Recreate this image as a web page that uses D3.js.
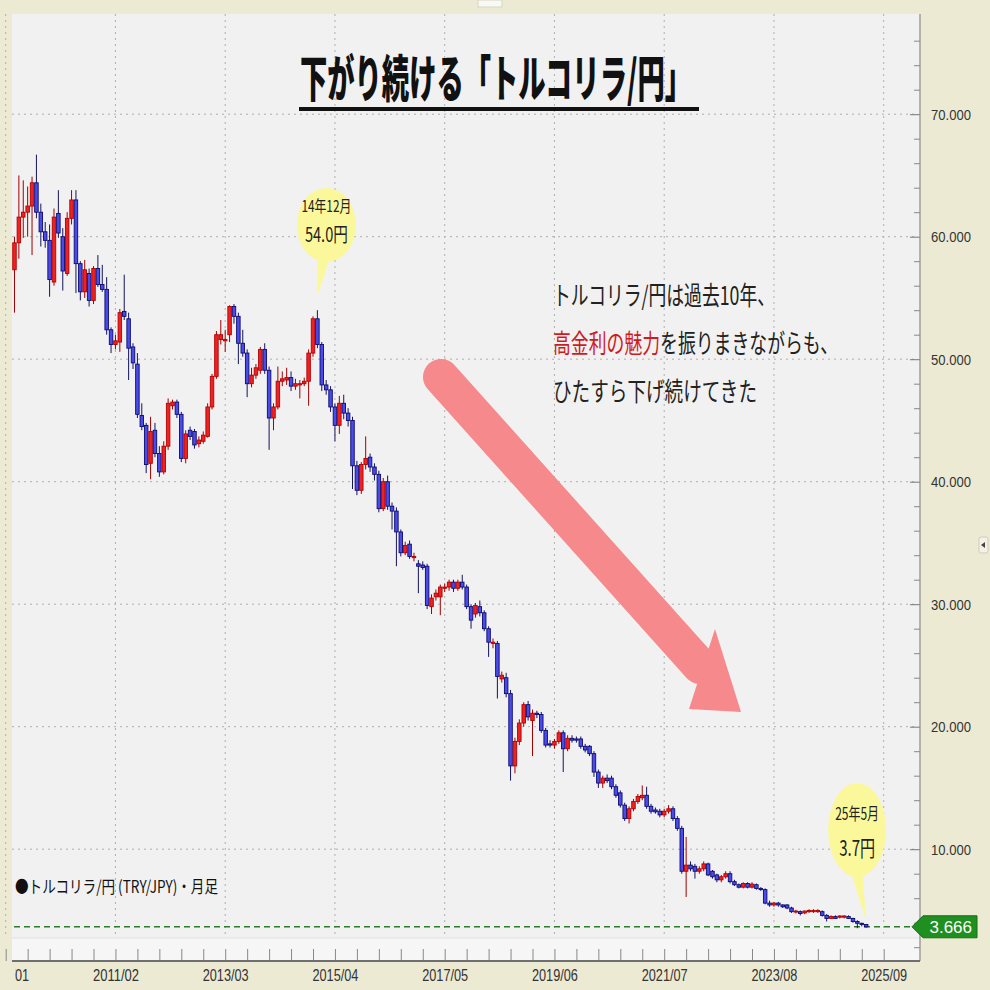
<!DOCTYPE html>
<html><head><meta charset="utf-8">
<script src="https://cdn.jsdelivr.net/npm/d3@7"></script>
<style>html,body{margin:0;padding:0;background:#ECEAD3;} svg{display:block}</style>
</head><body><svg id="chart" width="990" height="990"></svg>
<script>
// ---------- DATA ----------
const startMonth = "2009/03";
const axisFirstMonth = "2009/01";
const axisLastMonth = "2025/09";

const openVals = [
 57.3,59.5,61.6,62.0,62.5,64.4,62.0,60.4,59.7,56.3,
 61.9,60.0,57.0,61.5,63.0,57.8,55.5,57.0,54.8,57.4,56.1,55.7,
 52.4,51.2,51.4,53.9,53.3,51.0,49.6,45.4,44.6,41.5,44.2,42.3,
 40.8,42.9,46.2,46.5,45.5,41.9,44.2,44.1,43.1,43.3,43.7,46.1,
 48.6,51.6,51.5,52.0,54.3,53.5,51.3,50.5,48.0,48.7,49.1,50.8,
 49.1,45.2,46.1,48.2,48.3,48.5,47.8,47.9,48.0,48.2,50.5,53.3,
 51.2,47.9,47.5,46.1,44.6,46.4,45.6,45.0,41.3,39.3,41.4,42.0,
 41.2,40.6,37.8,40.0,38.0,37.6,35.9,34.2,34.9,33.8,33.3,33.2,
 33.1,29.8,30.6,30.6,31.3,31.4,31.8,31.3,31.8,31.4,29.8,29.2,
 29.8,29.3,28.0,26.8,26.8,23.9,24.0,22.7,16.8,18.8,20.3,21.8,
 20.5,21.1,21.0,19.7,18.6,18.5,18.8,19.5,18.2,19.05,19.0,19.0,
 18.4,18.4,17.8,16.3,15.4,15.8,15.8,15.1,14.6,13.6,12.5,13.3,
 13.9,14.2,14.4,13.5,13.2,13.1,12.8,13.1,13.3,12.5,11.7,8.2,
 8.7,8.6,8.2,8.4,8.8,8.2,7.9,7.5,7.75,8.0,7.35,7.1,
 6.9,7.2,6.9,7.1,6.8,6.7,5.6,5.45,5.6,5.45,5.45,5.2,
 4.9,4.9,4.8,4.9,4.9,4.9,4.9,4.6,4.35,4.5,4.45,4.45,
 4.5,4.35,4.1,3.95,3.85
];
const highVals = [
 60.0,65.0,64.6,64.1,64.9,66.7,62.7,61.2,61.0,62.3,
 63.8,60.7,62.0,63.8,63.8,58.0,58.1,57.4,57.6,58.5,57.7,56.7,
 52.6,52.0,54.1,56.9,53.8,51.3,50.5,46.4,44.8,45.3,44.8,42.9,
 43.3,46.8,46.7,46.7,45.7,44.2,44.5,44.3,43.7,44.1,46.4,48.8,
 52.3,53.2,52.4,54.4,54.5,53.8,52.4,50.8,49.3,49.6,51.0,51.3,
 49.4,46.4,49.4,49.0,49.3,49.0,48.4,48.3,48.5,50.8,53.5,54.0,
 51.4,48.3,47.8,46.4,47.0,47.1,46.0,45.3,41.7,41.6,43.7,42.3,
 41.5,40.9,40.3,40.5,38.3,37.9,36.1,35.1,35.2,34.2,33.6,33.5,
 33.3,30.8,31.2,31.6,31.7,32.0,32.0,32.0,32.4,31.6,30.0,30.1,
 30.3,29.5,28.2,27.2,27.0,24.5,24.4,23.0,19.1,20.6,22.0,22.1,
 21.4,21.3,21.2,19.9,18.9,19.0,19.7,19.7,19.3,19.3,19.2,19.2,
 18.6,18.5,18.0,16.5,16.0,16.1,16.0,15.3,14.8,13.8,13.5,14.1,
 14.5,15.2,15.1,13.7,13.4,13.3,13.3,13.6,13.5,12.7,11.9,11.0,
 9.0,8.8,8.6,9.0,8.9,8.3,8.0,7.9,8.2,8.2,7.5,7.2,
 7.3,7.3,7.3,7.2,6.9,6.8,5.8,5.7,5.7,5.5,5.5,5.3,
 5.05,5.0,5.0,5.1,5.1,5.1,5.0,4.7,4.6,4.6,4.6,4.6,
 4.6,4.4,4.2,4.0,3.9
];
const lowVals = [
 53.8,58.2,59.9,60.0,58.5,61.5,59.2,59.1,55.1,56.0,
 59.9,55.6,56.8,61.0,55.4,54.8,55.0,54.3,54.5,55.9,55.5,52.0,
 50.5,50.8,50.6,53.2,48.3,49.2,45.2,44.2,40.7,40.2,42.0,40.4,
 40.6,42.6,45.9,45.2,41.6,41.5,43.4,42.7,42.8,43.1,43.6,45.9,
 48.4,51.2,50.6,51.4,52.9,49.6,50.2,46.9,47.7,48.4,48.8,48.8,
 42.6,44.2,45.9,47.8,47.9,47.4,47.5,46.8,47.8,46.2,50.2,50.9,
 47.4,47.1,45.7,43.3,43.9,45.1,44.5,39.4,38.9,39.0,41.0,40.8,
 40.1,37.5,37.6,37.7,36.1,33.1,33.9,34.0,33.7,33.5,30.9,32.8,
 29.6,29.2,30.3,29.1,31.0,31.1,31.0,31.1,31.2,29.6,28.0,28.9,
 29.0,27.8,25.7,26.4,22.3,23.6,22.4,15.6,16.2,18.5,20.0,20.5,
 17.6,20.7,19.5,18.3,18.3,18.2,18.6,16.3,18.0,18.7,18.7,18.2,
 17.9,17.6,15.9,15.0,15.0,15.4,14.9,14.2,13.4,12.3,12.1,13.1,
 13.7,14.0,13.3,12.9,12.9,12.6,12.6,12.9,12.3,11.5,8.0,6.1,
 8.2,7.6,8.0,8.2,7.8,7.6,7.3,7.3,7.6,7.2,7.0,6.8,
 6.8,6.8,6.8,6.7,6.6,5.5,5.3,5.3,5.3,5.2,5.1,4.8,
 4.75,4.6,4.7,4.8,4.8,4.8,4.5,4.1,4.3,4.3,4.35,4.35,
 4.3,4.0,3.55,3.7,3.6
];
const closeVals = [
 59.5,61.6,62.0,62.5,64.4,62.0,60.4,59.7,56.5,61.6,
 60.3,57.2,61.5,63.0,57.8,55.5,57.3,54.8,57.4,56.1,55.7,52.4,
 51.2,51.5,53.8,53.5,50.9,49.7,45.5,44.5,41.4,44.1,42.3,40.8,
 42.9,46.4,46.5,45.5,41.9,43.9,43.7,43.0,43.4,43.8,46.1,48.6,
 52.0,52.0,51.6,54.3,53.5,51.3,50.5,48.0,48.7,49.3,50.8,49.1,
 45.2,46.1,48.2,48.4,48.5,47.8,48.0,48.0,48.2,50.5,53.3,51.2,
 47.9,47.5,46.1,44.6,46.4,45.6,45.0,41.3,39.3,41.4,41.9,41.2,
 40.6,37.8,40.0,38.0,37.6,35.9,34.2,34.8,33.9,33.9,33.1,33.0,
 29.9,30.5,30.9,31.4,31.4,31.8,31.3,31.8,31.4,29.8,28.7,29.9,
 29.3,28.0,26.9,26.9,24.1,24.2,22.7,16.8,18.8,20.3,21.8,20.8,
 21.1,21.0,19.7,18.5,18.5,18.8,19.5,18.2,19.05,18.9,18.9,18.4,
 18.1,17.8,16.3,15.4,15.8,15.6,15.1,14.4,13.6,12.5,13.3,13.9,
 14.3,14.4,13.5,13.1,13.05,12.8,13.1,13.3,12.5,11.7,8.2,8.7,
 8.4,8.2,8.4,8.8,7.9,7.75,7.5,7.75,8.0,7.35,7.1,6.9,
 7.2,6.9,7.15,6.8,6.7,5.6,5.45,5.6,5.45,5.3,5.2,4.9,
 4.95,4.75,4.95,5.0,5.0,5.0,4.6,4.35,4.5,4.35,4.55,4.55,
 4.35,4.1,3.95,3.85,3.666
];

const xTickLabels = ["2009/01","2011/02","2013/03","2015/04","2017/05","2019/06","2021/07","2023/08","2025/09"];
const yTickValues = [10,20,30,40,50,60,70];
const lastPrice = 3.666;

const titleText = "下がり続ける「トルコリラ/円」";
const noteLine1 = "トルコリラ/円は過去10年、";
const noteLine2Red = "高金利の魅力";
const noteLine2Rest = "を振りまきながらも、";
const noteLine3 = "ひたすら下げ続けてきた";
const legendText = "●トルコリラ/円 (TRY/JPY)・月足";
const peakMonth = "2014/12";
const peakLines = ["14年12月","54.0円"];
const lastMonth = "2025/05";
const lastLines = ["25年5月","3.7円"];

// ---------- HELPERS ----------
function monthSeq(a, b) {
  let [ya, ma] = a.split("/").map(Number);
  const [yb, mb] = b.split("/").map(Number);
  const out = [];
  while (ya < yb || (ya === yb && ma <= mb)) {
    out.push(ya + "/" + String(ma).padStart(2, "0"));
    ma++; if (ma > 12) { ma = 1; ya++; }
  }
  return out;
}
const allMonths = monthSeq(axisFirstMonth, axisLastMonth);
const startIdx = allMonths.indexOf(startMonth);
const candles = closeVals.map((c, i) => ({
  month: allMonths[startIdx + i], o: openVals[i], h: highVals[i], l: lowVals[i], c: c
}));

// ---------- LAYOUT ----------
const W = 990, H = 990;
const panelL = 12, panelT = 14, axisX = 920, stripT = 938, axisY = 961;

const svg = d3.select("#chart");
const defs = svg.append("defs");
defs.append("clipPath").attr("id", "plotClip").append("rect")
  .attr("x", panelL).attr("y", panelT).attr("width", axisX - panelL).attr("height", axisY - panelT);
defs.append("clipPath").attr("id", "labelClip").append("rect")
  .attr("x", 15).attr("y", 0).attr("width", W).attr("height", H);

const x = d3.scalePoint().domain(allMonths).range([5.7, 883.7]);
const y = d3.scaleLinear().domain([0, 70]).range([971.7, 114.2]);

// background
svg.append("rect").attr("width", W).attr("height", H).attr("fill", "#ECEAD3");
svg.append("rect").attr("x", 478).attr("y", 0).attr("width", 24).attr("height", 7).attr("fill", "#F8F8F4").attr("stroke", "#D8D6C4");
svg.append("rect").attr("x", panelL).attr("y", panelT).attr("width", axisX - panelL).attr("height", axisY - panelT).attr("fill", "#F1F1F1");
svg.append("rect").attr("x", panelL).attr("y", stripT).attr("width", axisX - panelL).attr("height", axisY - stripT).attr("fill", "#F6F6F6");
svg.append("line").attr("x1", panelL).attr("x2", axisX).attr("y1", stripT).attr("y2", stripT).attr("stroke", "#E0E0E0");

// grid
const gridG = svg.append("g");
gridG.selectAll("line.h").data(yTickValues).join("line")
  .attr("x1", panelL).attr("x2", axisX - 6).attr("y1", d => y(d)).attr("y2", d => y(d))
  .attr("stroke", "#AFAFAF").attr("stroke-dasharray", "2,4").attr("stroke-width", 1);
gridG.selectAll("line.v").data(xTickLabels).join("line")
  .attr("x1", d => x(d)).attr("x2", d => x(d)).attr("y1", panelT).attr("y2", stripT)
  .attr("stroke", "#AFAFAF").attr("stroke-dasharray", "2,4").attr("stroke-width", 1);

// arrow (decoration)
const arrowG = svg.append("g").attr("fill", "#F5898B").attr("stroke", "none");
arrowG.append("line").attr("x1", 441).attr("y1", 377).attr("x2", 700).attr("y2", 666)
  .attr("stroke", "#F5898B").attr("stroke-width", 36).attr("stroke-linecap", "round");
arrowG.append("polygon").attr("points", "741,712 715,629 689,709");

// title
svg.append("text").attr("x", 300).attr("y", 97).text(titleText)
  .attr("font-family", "'Noto Sans CJK JP', sans-serif").attr("font-weight", 900)
  .attr("font-size", 50).attr("fill", "#111")
  .attr("textLength", 392).attr("lengthAdjust", "spacingAndGlyphs");
svg.append("rect").attr("x", 299).attr("y", 107).attr("width", 400).attr("height", 4).attr("fill", "#111");

// note text
const noteFont = "'Noto Sans CJK JP', sans-serif";
function noteText(x0, yb, len) {
  return svg.append("text").attr("x", x0).attr("y", yb)
    .attr("font-family", noteFont).attr("font-size", 26).attr("fill", "#222")
    .attr("textLength", len).attr("lengthAdjust", "spacingAndGlyphs");
}
noteText(553, 305, 222).text(noteLine1);
const l2 = noteText(553, 353, 285);
l2.append("tspan").attr("fill", "#D01A1C").text(noteLine2Red);
l2.append("tspan").text(noteLine2Rest);
noteText(553, 401, 204).text(noteLine3);

// y axis
const yAxisG = svg.append("g").attr("transform", `translate(${axisX},0)`);
yAxisG.call(d3.axisRight(y).tickValues(yTickValues).tickSizeInner(-10).tickSizeOuter(0)
  .tickPadding(11).tickFormat(d3.format(".3f")));
yAxisG.select(".domain").remove();
yAxisG.selectAll(".tick line").attr("stroke", "#777");
yAxisG.selectAll(".tick text").attr("font-family", "'Liberation Sans Narrow', 'Liberation Sans', sans-serif")
  .attr("font-size", 15).attr("fill", "#333")
  .attr("textLength", 40).attr("lengthAdjust", "spacingAndGlyphs");
const yMinor = d3.range(2, 78, 2).filter(v => v % 10 !== 0);
const yMinorG = svg.append("g").attr("transform", `translate(${axisX},0)`);
yMinorG.call(d3.axisRight(y).tickValues(yMinor).tickSizeInner(-6).tickSizeOuter(0).tickFormat(""));
yMinorG.select(".domain").remove();
yMinorG.selectAll(".tick text").remove();
yMinorG.selectAll(".tick line").attr("stroke", "#888");
svg.append("line").attr("x1", axisX).attr("x2", axisX).attr("y1", panelT).attr("y2", axisY).attr("stroke", "#8A8A8A").attr("stroke-width", 1.2);

// x axis
const xMinorVals = allMonths.filter((m, i) => i % 5 === 0);
const xMinorG = svg.append("g").attr("transform", `translate(0,${axisY})`);
xMinorG.call(d3.axisBottom(x).tickValues(xMinorVals).tickSizeInner(-12).tickSizeOuter(0).tickFormat(""));
xMinorG.select(".domain").remove();
xMinorG.selectAll(".tick text").remove();
xMinorG.selectAll(".tick line").attr("stroke", "#888");
const xAxisG = svg.append("g").attr("transform", `translate(0,${axisY})`).attr("clip-path", "url(#labelClip)");
xAxisG.call(d3.axisBottom(x).tickValues(xTickLabels).tickSizeInner(-19).tickSizeOuter(0).tickPadding(9));
xAxisG.select(".domain").remove();
xAxisG.selectAll(".tick line").attr("stroke", "#777");
xAxisG.selectAll(".tick text").attr("font-family", "'Liberation Sans Narrow', 'Liberation Sans', sans-serif")
  .attr("font-size", 16).attr("fill", "#333")
  .attr("textLength", 46).attr("lengthAdjust", "spacingAndGlyphs");
svg.append("line").attr("x1", panelL).attr("x2", axisX).attr("y1", axisY).attr("y2", axisY).attr("stroke", "#6E6E6E").attr("stroke-width", 2);

// last price dashed line
svg.append("line").attr("x1", panelL + 2).attr("x2", axisX - 8).attr("y1", y(lastPrice)).attr("y2", y(lastPrice))
  .attr("stroke", "#2C7A2C").attr("stroke-width", 1.6).attr("stroke-dasharray", "6,4");

// candles
const bw = 3.5;
const cg = svg.append("g").attr("clip-path", "url(#plotClip)");
const cs = cg.selectAll("g.c").data(candles).join("g");
cs.append("line")
  .attr("x1", d => x(d.month)).attr("x2", d => x(d.month))
  .attr("y1", d => y(d.h)).attr("y2", d => y(d.l))
  .attr("stroke", d => d.c >= d.o ? "#A00000" : "#14145E").attr("stroke-width", 1);
cs.append("rect")
  .attr("x", d => x(d.month) - bw / 2).attr("width", bw)
  .attr("y", d => y(Math.max(d.o, d.c)))
  .attr("height", d => Math.max(1, Math.abs(y(d.o) - y(d.c))))
  .attr("fill", d => d.c >= d.o ? "#EE2222" : "#4B4BEA")
  .attr("stroke", d => d.c >= d.o ? "#B40000" : "#0A0A70").attr("stroke-width", 0.9);

// callout bubbles
function bubble(month, price, cxOff, cy, rx, ry, tipGap, lines, sizes, lens, lineYs) {
  const tx = x(month), ty = y(price) - tipGap;
  const cx = tx + cxOff;
  const g = svg.append("g");
  g.append("polygon").attr("points", `${cx - 9},${cy + ry - 14} ${cx + 5},${cy + ry - 10} ${tx},${ty}`).attr("fill", "#FBF89B");
  g.append("ellipse").attr("cx", cx).attr("cy", cy).attr("rx", rx).attr("ry", ry).attr("fill", "#FBF89B");
  lines.forEach((t, i) => {
    g.append("text").attr("x", cx).attr("y", lineYs[i]).attr("text-anchor", "middle").text(t)
      .attr("font-family", "'Noto Sans CJK JP', sans-serif").attr("font-size", sizes[i]).attr("fill", "#222")
      .attr("textLength", lens[i]).attr("lengthAdjust", "spacingAndGlyphs");
  });
}
bubble(peakMonth, 54.0, 9, 225, 29.5, 37, 14, peakLines, [16, 20], [50, 43], [212, 242]);
bubble(lastMonth, lastPrice, -9, 830, 29, 47, 6, lastLines, [17, 22], [44, 36], [820, 856]);

// price tag
const py = y(lastPrice);
svg.append("polygon").attr("points", `${axisX - 8},${py} ${axisX + 3},${py - 11} 977,${py - 11} 977,${py + 11} ${axisX + 3},${py + 11}`)
  .attr("fill", "#1F8F1F").attr("stroke", "#176C17").attr("stroke-width", 1);
svg.append("text").attr("x", 972).attr("y", py + 6).attr("text-anchor", "end").text(lastPrice.toFixed(3))
  .attr("font-family", "'Liberation Sans Narrow', 'Liberation Sans', sans-serif").attr("font-size", 17).attr("fill", "#fff");

// legend
svg.append("text").attr("x", 15).attr("y", 893).text(legendText)
  .attr("font-family", "'Noto Sans CJK JP', sans-serif").attr("font-size", 17).attr("fill", "#111")
  .attr("textLength", 203).attr("lengthAdjust", "spacingAndGlyphs");

// small side button
svg.append("rect").attr("x", 979).attr("y", 537).attr("width", 9).attr("height", 16).attr("rx", 2)
  .attr("fill", "#F4F2E4").attr("stroke", "#CFCDBB");
svg.append("polygon").attr("points", "981,545 985,542 985,548").attr("fill", "#444");
</script></body></html>
